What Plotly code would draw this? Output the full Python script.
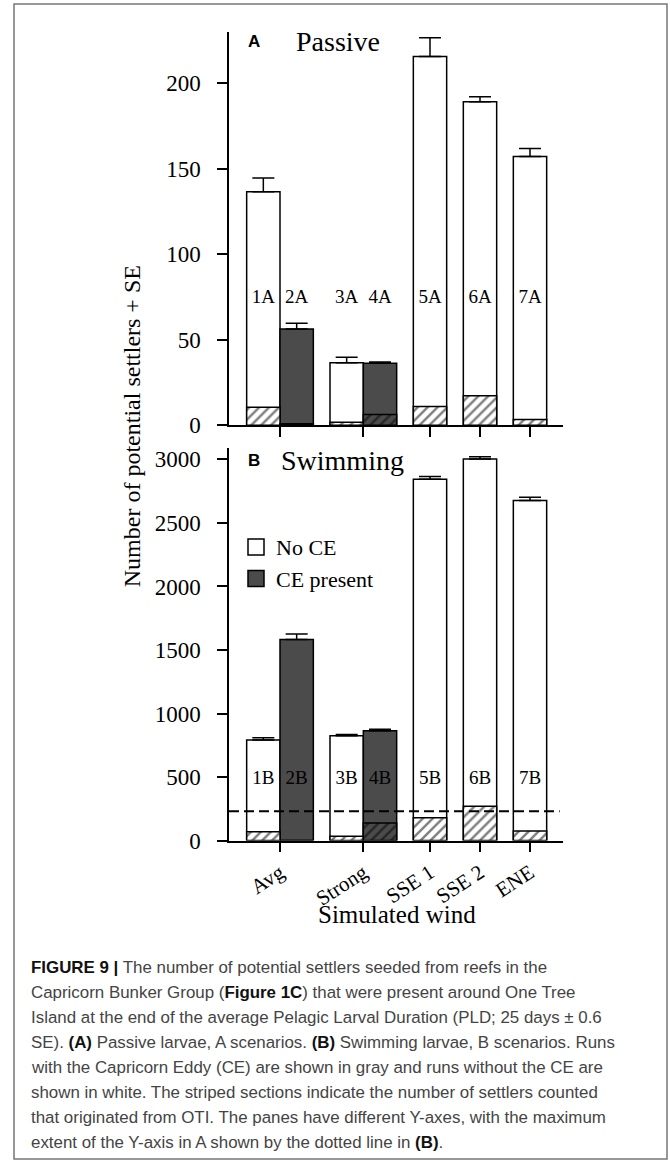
import plotly.graph_objects as go

# wind scenarios (x categories) and bar labels
categories = ["Avg", "Strong", "SSE 1", "SSE 2", "ENE"]
labels_a_noce = ["1A", "3A", "5A", "6A", "7A"]
labels_a_ce = ["2A", "4A"]
labels_b_noce = ["1B", "3B", "5B", "6B", "7B"]
labels_b_ce = ["2B", "4B"]

# (A) passive larvae
passive_noce = [136.5, 36.5, 215.5, 189.0, 157.0]
passive_noce_se = [8.0, 3.3, 11.0, 3.0, 4.7]
passive_noce_oti = [10.5, 1.8, 11.0, 17.3, 3.3]
passive_ce = [56.3, 36.2]
passive_ce_se = [3.3, 0.8]
passive_ce_oti = [0.8, 6.3]

# (B) swimming larvae
swim_noce = [792, 826, 2843, 3004, 2676]
swim_noce_se = [18, 8, 23, 16, 26]
swim_noce_oti = [70, 34, 179, 270, 75]
swim_ce = [1583, 864]
swim_ce_se = [42, 13]
swim_ce_oti = [0, 138]

A_MAX = 230  # top of the y-axis in A, shown dashed in B

# layout helpers (bar width = 1 x-unit)
tick_pos = [0, 2.5, 4.5, 6, 7.5]
pos_noce = [-0.5, 2, 4.5, 6, 7.5]
pos_ce = [0.5, 3]

W, H = 670, 1173
SERIF = "Liberation Serif"
SANS = "Liberation Sans"
GREY = "#4b4b4b"
LW = 1.5


def px(x):
    return x / W


def py(y):
    return 1 - y / H


def add_panel(fig, xa, ya, noce, noce_se, noce_oti, ce, ce_se, ce_oti,
              lab_noce, lab_ce, lab_y):
    for pos, tot, se, col in [(pos_noce, noce, noce_se, "white"),
                              (pos_ce, ce, ce_se, GREY)]:
        fig.add_trace(go.Bar(
            x=pos, y=tot, width=1, xaxis=xa, yaxis=ya, showlegend=False,
            marker=dict(color=col, line=dict(color="black", width=LW)),
            error_y=dict(type="data", array=se, arrayminus=[0] * len(se),
                         symmetric=False, color="black", thickness=LW, width=11)))
    for pos, oti, col in [(pos_noce, noce_oti, "white"), (pos_ce, ce_oti, GREY)]:
        fig.add_trace(go.Bar(
            x=pos, y=oti, width=1, xaxis=xa, yaxis=ya, showlegend=False,
            marker=dict(color=col, line=dict(color="black", width=LW),
                        pattern=dict(shape="/", fgcolor="black", bgcolor=col,
                                     size=7, solidity=0.35))))
    fig.add_trace(go.Scatter(
        x=pos_noce + pos_ce, y=[lab_y] * 7, text=lab_noce + lab_ce, mode="text",
        xaxis=xa, yaxis=ya, showlegend=False,
        textfont=dict(family=SERIF, size=19, color="black")))


fig = go.Figure()
add_panel(fig, "x", "y", passive_noce, passive_noce_se, passive_noce_oti,
          passive_ce, passive_ce_se, passive_ce_oti, labels_a_noce, labels_a_ce, 74)
add_panel(fig, "x2", "y2", swim_noce, swim_noce_se, swim_noce_oti,
          swim_ce, swim_ce_se, swim_ce_oti, labels_b_noce, labels_b_ce, 480)

# legend entries
for name, col in [("No CE", "white"), ("CE present", GREY)]:
    fig.add_trace(go.Scatter(
        x=[None], y=[None], mode="markers", name=name, xaxis="x2", yaxis="y2",
        marker=dict(symbol="square", size=16, color=col,
                    line=dict(color="black", width=LW))))

xdom = [px(229), px(563)]
xrange = [-1.53, 8.49]
axis_common = dict(showline=True, linecolor="black", linewidth=LW, ticks="outside",
                   tickcolor="black", tickwidth=LW, ticklen=10, showgrid=False,
                   zeroline=False, tickfont=dict(family=SERIF, size=23, color="black"))

fig.update_layout(
    width=W, height=H, margin=dict(l=0, r=0, t=0, b=0),
    paper_bgcolor="white", plot_bgcolor="white", barmode="overlay",
    xaxis=dict(axis_common, domain=xdom, range=xrange, anchor="y",
               tickvals=tick_pos, showticklabels=False),
    yaxis=dict(axis_common, domain=[py(430), py(32)], range=[0, A_MAX], anchor="x",
               tickvals=[0, 50, 100, 150, 200], ticklabelstandoff=12),
    xaxis2=dict(axis_common, domain=xdom, range=xrange, anchor="y2",
                tickvals=tick_pos, ticktext=categories, tickangle=-33,
                tickfont=dict(family=SERIF, size=21, color="black")),
    yaxis2=dict(axis_common, domain=[py(850), py(453)], range=[0, 3090], anchor="x2",
                tickvals=[0, 500, 1000, 1500, 2000, 2500, 3000], ticklabelstandoff=12),
    legend=dict(x=px(236), y=py(532), xanchor="left", yanchor="top",
                font=dict(family=SERIF, size=22, color="black"),
                bgcolor="rgba(0,0,0,0)", tracegroupgap=0),
    font=dict(family=SERIF, color="black"),
)

# max extent of A's y-axis
fig.add_shape(type="line", xref="x2 domain", yref="y2", x0=0, x1=0.99,
              y0=A_MAX, y1=A_MAX, line=dict(color="black", width=2, dash="10px,5px"))

# outer frame
fig.add_shape(type="rect", xref="paper", yref="paper", x0=px(14), x1=px(667),
              y0=py(1172), y1=py(4), line=dict(color="#777777", width=1.5))

ann = [
    dict(x=px(246), y=py(42), text="<b>A</b>", font=dict(family=SANS, size=17)),
    dict(x=px(294), y=py(42), text="Passive", font=dict(family=SERIF, size=28)),
    dict(x=px(246), y=py(466), text="<b>B</b>", font=dict(family=SANS, size=17)),
    dict(x=px(279), y=py(466), text="Swimming", font=dict(family=SERIF, size=28)),
]
for a in ann:
    fig.add_annotation(xref="paper", yref="paper", xanchor="left", yanchor="middle",
                       showarrow=False, **a)

fig.add_annotation(xref="paper", yref="paper", x=px(132), y=py(431), textangle=-90,
                   xanchor="center", yanchor="middle",
                   text="Number of potential settlers + SE", showarrow=False,
                   font=dict(family=SERIF, size=24, color="black"))
fig.add_annotation(xref="paper", yref="paper", x=px(397), y=py(925),
                   xanchor="center", yanchor="middle",
                   text="Simulated wind", showarrow=False,
                   font=dict(family=SERIF, size=25, color="black"))

B0 = '<span style="color:#111111"><b>'
B1 = '</b></span>'
caption = [
    f"{B0}FIGURE 9 |{B1} The number of potential settlers seeded from reefs in the",
    f"Capricorn Bunker Group ({B0}Figure 1C{B1}) that were present around One Tree",
    "Island at the end of the average Pelagic Larval Duration (PLD; 25 days ± 0.6",
    f"SE). {B0}(A){B1} Passive larvae, A scenarios. {B0}(B){B1} Swimming larvae, B scenarios. Runs",
    "with the Capricorn Eddy (CE) are shown in gray and runs without the CE are",
    "shown in white. The striped sections indicate the number of settlers counted",
    "that originated from OTI. The panes have different Y-axes, with the maximum",
    f"extent of the Y-axis in A shown by the dotted line in {B0}(B){B1}.",
]
for i, line in enumerate(caption):
    fig.add_annotation(xref="paper", yref="paper", x=px(29), y=py(978 + 25.4 * i),
                       xanchor="left", yanchor="middle", text=line, showarrow=False,
                       font=dict(family=SANS, size=16.9, color="#444444"))

fig.write_html("out.html", config={"displayModeBar": False},
               post_script="document.body.style.margin='0';"
                           "document.body.style.overflow='hidden';")
